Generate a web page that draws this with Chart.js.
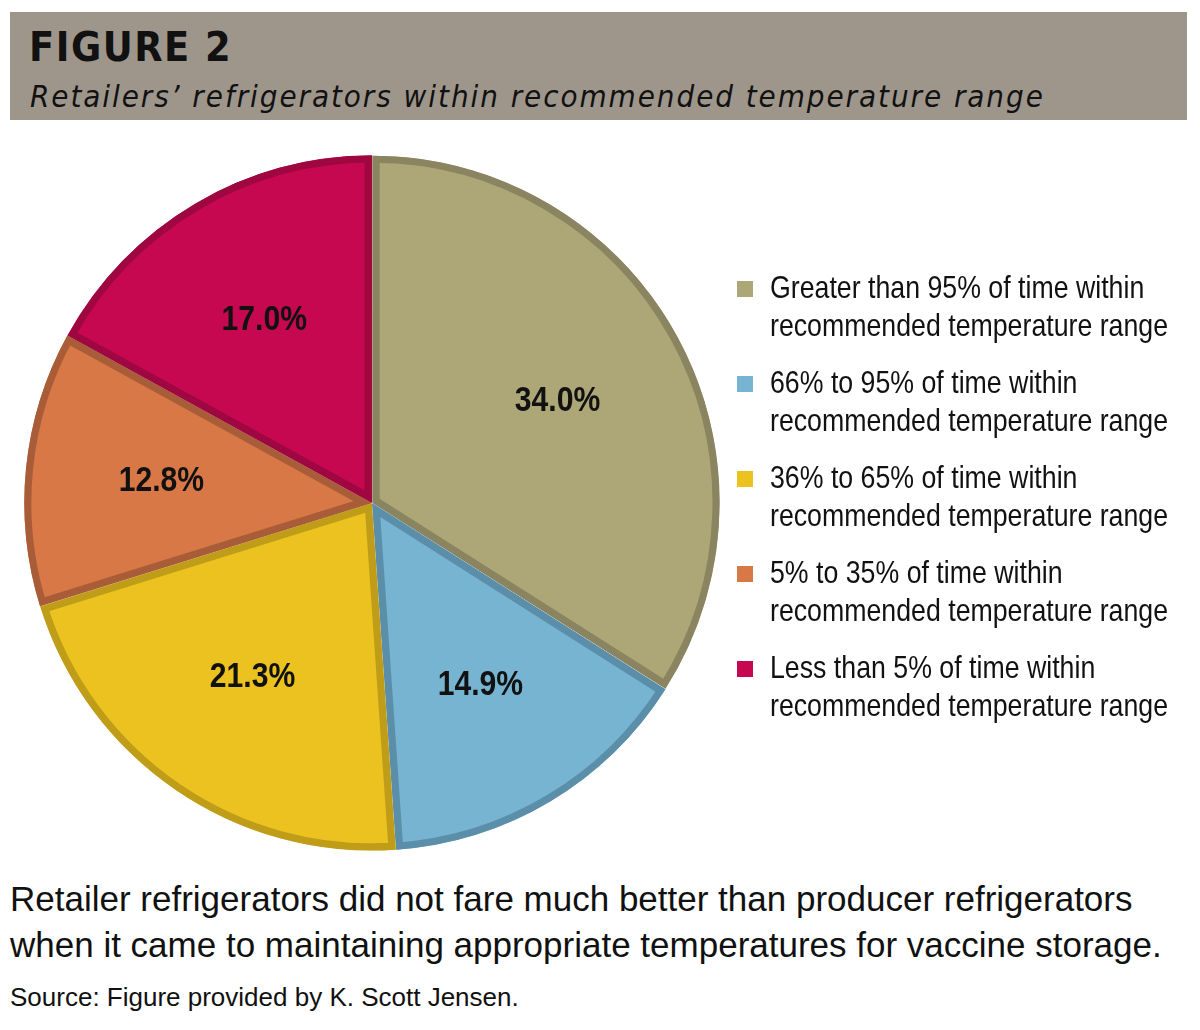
<!DOCTYPE html>
<html>
<head>
<meta charset="utf-8">
<script src="https://cdn.jsdelivr.net/npm/chart.js@4"></script>
<style>
  body { margin: 0; background: #fff; width: 1200px; height: 1030px; position: relative; overflow: hidden; }
  #band { position: absolute; left: 10px; top: 12px; width: 1177px; height: 108px; background: #9e968b; }
  #fig { position: absolute; left: 29px; top: 23px; font: bold 41px "DejaVu Sans Condensed", "DejaVu Sans", sans-serif; letter-spacing: 1.5px; color: #111; }
  #sub { position: absolute; left: 30px; top: 78px; font: italic 31px "DejaVu Sans Condensed", "DejaVu Sans", sans-serif; letter-spacing: 1.95px; color: #111; white-space: nowrap; }
  #wrap { position: absolute; left: 0; top: 140px; width: 744px; height: 726px; }
  #legend { position: absolute; left: 737px; top: 268px; font: 32px "Liberation Sans", Arial, sans-serif; color: #111; }
  .item { position: relative; height: 95px; }
  .sw { position: absolute; left: 0; top: 13px; width: 16px; height: 16px; }
  .txt { position: absolute; left: 33px; top: 0; line-height: 38px; white-space: nowrap; transform: scaleX(0.835); transform-origin: 0 0; }
  #cap { position: absolute; left: 10px; top: 876px; font: 35px "Liberation Sans", Arial, sans-serif; line-height: 46px; color: #111; white-space: nowrap; }
  #src { position: absolute; left: 10px; top: 982px; font: 26px "Liberation Sans", Arial, sans-serif; color: #111; white-space: nowrap; }
</style>
</head>
<body>
<div id="band"></div>
<div id="fig">FIGURE 2</div>
<div id="sub">Retailers’ refrigerators within recommended temperature range</div>
<div id="wrap"><canvas id="pie" width="744" height="726"></canvas></div>
<div id="legend"></div>
<div id="cap">Retailer refrigerators did not fare much better than producer refrigerators<br>when it came to maintaining appropriate temperatures for vaccine storage.</div>
<div id="src">Source: Figure provided by K. Scott Jensen.</div>
<script>
"use strict";

// categories (legend text, 2 lines each)
const categories = [
    ['Greater than 95% of time within', 'recommended temperature range'],
    ['66% to 95% of time within', 'recommended temperature range'],
    ['36% to 65% of time within', 'recommended temperature range'],
    ['5% to 35% of time within', 'recommended temperature range'],
    ['Less than 5% of time within', 'recommended temperature range'],
];
// percent of refrigerators
const values = [34.0, 14.9, 21.3, 12.8, 17.0];

const fillColors = ['#ada677', '#77b4d2', '#ebc21f', '#d77846', '#c5084f'];
const edgeColors = ['#8a8560', '#5b8fa9', '#bf9d18', '#a85d38', '#9e073f'];

// legend
const legend = document.getElementById('legend');
categories.forEach(function(lines, i){
    const div = document.createElement('div');
    div.className = 'item';
    div.innerHTML = '<span class="sw" style="background:' + fillColors[i] + '"></span>'
        + '<span class="txt">' + lines.join('<br>') + '</span>';
    legend.appendChild(div);
});

// percentage labels inside slices
const sliceLabels = {
    id: 'sliceLabels',
    afterDatasetsDraw(chart) {
        const ctx = chart.ctx;
        const meta = chart.getDatasetMeta(0);
        meta.data.forEach(function(arc, i){
            const p = arc.getProps(['x', 'y', 'startAngle', 'endAngle', 'outerRadius'], true);
            const mid = (p.startAngle + p.endAngle) / 2;
            const r = p.outerRadius * 0.61;
            ctx.save();
            ctx.translate(p.x + Math.cos(mid) * r, p.y + Math.sin(mid) * r);
            ctx.scale(0.86, 1);
            ctx.font = 'bold 35px "Liberation Sans", Arial, sans-serif';
            ctx.fillStyle = '#111';
            ctx.textAlign = 'center';
            ctx.textBaseline = 'middle';
            ctx.fillText(values[i].toFixed(1) + '%', 0, 0);
            ctx.restore();
        });
    }
};

new Chart(document.getElementById('pie'), {
    type: 'pie',
    data: {
        labels: categories.map(function(l){ return l.join(' '); }),
        datasets: [{
            data: values,
            backgroundColor: fillColors,
            borderColor: edgeColors,
            borderWidth: 7,
            borderAlign: 'inner',
            borderJoinStyle: 'miter',
            offset: 3,
        }]
    },
    options: {
        responsive: false,
        animation: false,
        radius: 347,
        layout: { padding: 0 },
        plugins: {
            legend: { display: false },
            tooltip: { enabled: false },
        },
    },
    plugins: [sliceLabels],
});
</script>
</body>
</html>
